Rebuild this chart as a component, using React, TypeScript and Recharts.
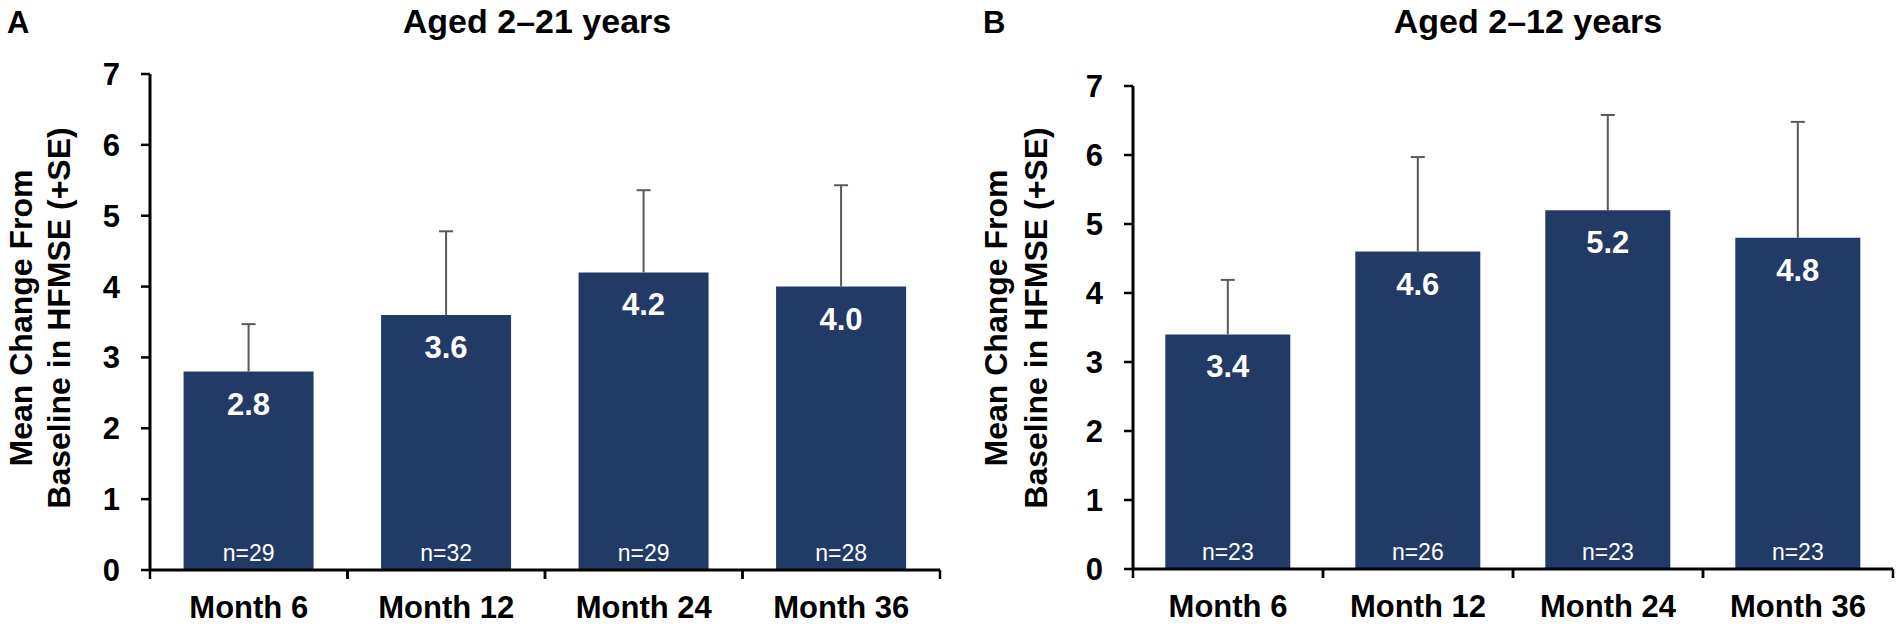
import React from "react";
import { BarChart, Bar, XAxis, YAxis, ErrorBar, LabelList } from "recharts";

const months = ["Month 6", "Month 12", "Month 24", "Month 36"];

// Panel A: aged 2–21 years
const meanA = [2.8, 3.6, 4.2, 4.0];
const seA = [0.67, 1.18, 1.16, 1.43];
const nA = [29, 32, 29, 28];

// Panel B: aged 2–12 years
const meanB = [3.4, 4.6, 5.2, 4.8];
const seB = [0.79, 1.37, 1.38, 1.68];
const nB = [23, 26, 23, 23];

const yTicks = [0, 1, 2, 3, 4, 5, 6, 7];

const FONT = "'Liberation Sans', Arial, Helvetica, sans-serif";
const BAR = "#223a66";

const buildRows = (mean: number[], se: number[], n: number[]) =>
  months.map((m, i) => ({ month: m, mean: mean[i], err: [0, se[i]], n: n[i] }));

const MonthTick = (props: any) => {
  const { x, y, payload, width, visibleTicksCount, band } = props;
  const bw = width && visibleTicksCount ? width / visibleTicksCount : band;
  return (
    <g>
      <line x1={x - bw / 2} y1={y} x2={x - bw / 2} y2={y + 9} stroke="#000" strokeWidth={2.5} />
      <line x1={x + bw / 2} y1={y} x2={x + bw / 2} y2={y + 9} stroke="#000" strokeWidth={2.5} />
      <text x={x} y={y + 48} textAnchor="middle" fontFamily={FONT} fontWeight="bold" fontSize={31} fill="#000">
        {payload.value}
      </text>
    </g>
  );
};

const ValueLabel = (props: any) => {
  const { x, y, width, value } = props;
  return (
    <text x={x + width / 2} y={y + 43} textAnchor="middle" fontFamily={FONT} fontWeight="bold" fontSize={31} fill="#fff">
      {Number(value).toFixed(1)}
    </text>
  );
};

const NLabel = (props: any) => {
  const { x, y, width, height, value } = props;
  return (
    <text x={x + width / 2} y={y + height - 9} textAnchor="middle" fontFamily={FONT} fontSize={23} fill="#fff">
      {`n=${value}`}
    </text>
  );
};

const makeYLabel = (b1: number, b2: number, cy: number) => (props: any) => {
  const vx = props.viewBox ? props.viewBox.x : 0;
  const x1 = vx + b1;
  const x2 = vx + b2;
  const common = { textAnchor: "middle" as const, fontFamily: FONT, fontWeight: "bold", fontSize: 32, fill: "#000" };
  return (
    <g>
      <text x={x1} y={cy} transform={`rotate(-90, ${x1}, ${cy})`} {...common}>
        Mean Change From
      </text>
      <text x={x2} y={cy} transform={`rotate(-90, ${x2}, ${cy})`} {...common}>
        Baseline in HFMSE (+SE)
      </text>
    </g>
  );
};

type PanelProps = {
  rows: any[];
  width: number;
  top: number;
  xAxisHeight: number;
  yAxisWidth: number;
  right: number;
  band: number;
  labelBase: [number, number];
};

const Panel = ({ rows, width, top, xAxisHeight, yAxisWidth, right, band, labelBase }: PanelProps) => (
  <BarChart
    width={width}
    height={629}
    data={rows}
    margin={{ top, right, bottom: 0, left: 0 }}
    barCategoryGap="17%"
  >
    <XAxis
      dataKey="month"
      height={xAxisHeight}
      axisLine={{ stroke: "#000", strokeWidth: 3 }}
      tickLine={false}
      tickSize={0}
      tickMargin={0}
      interval={0}
      tick={<MonthTick band={band} />}
    />
    <YAxis
      type="number"
      domain={[0, 7]}
      ticks={yTicks}
      interval={0}
      width={yAxisWidth}
      axisLine={{ stroke: "#000", strokeWidth: 3 }}
      tickLine={{ stroke: "#000", strokeWidth: 2.5 }}
      tickSize={9}
      tickMargin={21}
      tick={{ fontFamily: FONT, fontWeight: "bold", fontSize: 31, fill: "#000" }}
      label={{ content: makeYLabel(labelBase[0], labelBase[1], 318) }}
    />
    <Bar dataKey="mean" fill={BAR} isAnimationActive={false}>
      <ErrorBar dataKey="err" width={7} stroke="#595959" strokeWidth={2} direction="y" />
      <LabelList dataKey="mean" content={<ValueLabel />} />
      <LabelList dataKey="n" content={<NLabel />} />
    </Bar>
  </BarChart>
);

export default function App() {
  const rowsA = buildRows(meanA, seA, nA);
  const rowsB = buildRows(meanB, seB, nB);
  return (
    <div style={{ position: "absolute", left: 0, top: 0, width: 1901, height: 629, background: "#fff" }}>
      <style>{`.recharts-errorBar line:nth-of-type(3){display:none}`}</style>
      <div style={{ position: "absolute", left: 0, top: 0 }}>
        <Panel
          rows={rowsA}
          width={950}
          top={74}
          xAxisHeight={59}
          yAxisWidth={150}
          right={10}
          band={197.5}
          labelBase={[32, 70]}
        />
      </div>
      <div style={{ position: "absolute", left: 950, top: 0 }}>
        <Panel
          rows={rowsB}
          width={951}
          top={86}
          xAxisHeight={60}
          yAxisWidth={183}
          right={8}
          band={190}
          labelBase={[57, 97]}
        />
      </div>
      <svg width={1901} height={629} style={{ position: "absolute", left: 0, top: 0, pointerEvents: "none" }}>
        <text x={7} y={33} fontFamily={FONT} fontWeight="bold" fontSize={31} fill="#000">A</text>
        <text x={537} y={33} textAnchor="middle" fontFamily={FONT} fontWeight="bold" fontSize={34} fill="#000">
          Aged 2–21 years
        </text>
        <text x={983} y={33} fontFamily={FONT} fontWeight="bold" fontSize={31} fill="#000">B</text>
        <text x={1528} y={33} textAnchor="middle" fontFamily={FONT} fontWeight="bold" fontSize={34} fill="#000">
          Aged 2–12 years
        </text>
      </svg>
    </div>
  );
}
